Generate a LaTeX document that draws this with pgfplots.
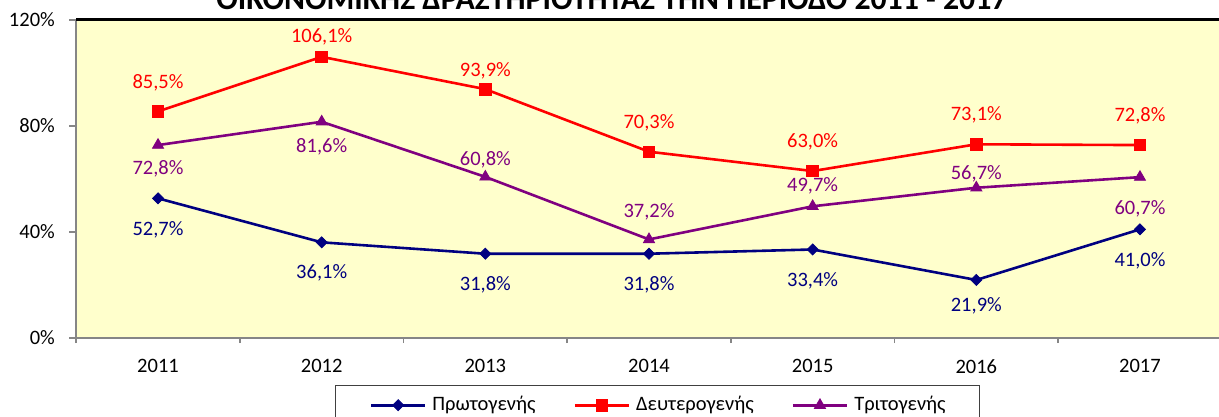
\documentclass[border=0pt]{standalone}
\usepackage{pgfplots}
\pgfplotsset{compat=1.18}
\usepackage{pgfplotstable}
\usepackage{fontspec}
\setmainfont{Carlito}
\definecolor{bg}{RGB}{255,255,204}
\definecolor{navyc}{RGB}{0,0,128}
\definecolor{redc}{RGB}{255,0,0}
\definecolor{purc}{RGB}{128,0,128}
\definecolor{axgray}{RGB}{134,134,134}

\pgfplotstableread{
x y off
0 52.7 -15.8
1 36.1 -15.0
2 31.8 -15.5
3 31.8 -15.5
4 33.4 -15.5
5 21.9 -12.8
6 41.0 -15.8
}\prim
\pgfplotstableread{
x y off
0 85.5 14.5
1 106.1 9.8
2 93.9 9.0
3 70.3 14.3
4 63.0 14.5
5 73.1 14.5
6 72.8 14.5
}\deut
\pgfplotstableread{
x y off
0 72.8 -12.0
1 81.6 -12.5
2 60.8 8.5
3 37.2 14.0
4 49.7 10.0
5 56.7 7.0
6 60.7 -16.0
}\trit

\begin{document}
\begin{tikzpicture}[font=\fontsize{10.25bp}{12bp}\selectfont]
\begin{axis}[
  scale only axis, width=572.8bp, height=159bp,
  xmin=-0.5, xmax=6.5, ymin=0, ymax=120,
  axis background/.style={fill=bg},
  axis line style={draw=none},
  xtick={0,...,6}, xticklabels={2011,2012,2013,2014,2015,2016,2017},
  minor xtick={-0.5,0.5,...,6.5},
  ytick={0,40,80,120}, yticklabels={0\%,40\%,80\%,120\%},
  xtick pos=bottom, ytick pos=left,
  tick align=outside,
  major tick length=3.5bp, minor tick length=2.5bp,
  major x tick style={draw=none},
  minor x tick style={axgray, line width=0.8bp},
  y tick style={axgray, line width=0.8bp},
  xticklabel style={inner sep=0pt, anchor=north, yshift=-7bp},
  yticklabel style={inner sep=0pt, anchor=east, xshift=-7bp},
  legend columns=3,
  legend cell align=left,
  legend style={at={(0.2262,-0.1478)}, anchor=north west, draw=black!75, line width=0.5bp,
    inner xsep=17bp, inner ysep=5.5bp, fill=white,
    nodes={inner sep=0pt},
    /tikz/every odd column/.append style={column sep=3bp},
    /tikz/every even column/.append style={column sep=19bp}},
  legend image code/.code={\draw[mark repeat=2,mark phase=2,#1] plot coordinates {(0bp,0bp) (13.5bp,0bp) (27bp,0bp)};},
  point meta=y,
  nodes near coords={\pgfmathprintnumber[fixed,fixed zerofill,precision=1,use comma,assume math mode=true]{\pgfplotspointmeta}\%},
  visualization depends on={\thisrow{off} \as \off},
  every node near coord/.append style={anchor=center, inner sep=0pt, yshift={\off*1bp}},
  clip=false,
]
\addplot[navyc, line width=1.3bp, mark=square*, mark size=1.95bp,
  mark options={solid, rotate=45, line width=0.4bp, fill=navyc},
  every node near coord/.append style={text=navyc}] table[x=x,y=y] {\prim};
\addlegendentry{Πρωτογενής}
\addplot[redc, line width=1.3bp, mark=square*, mark size=2.9bp,
  mark options={solid, line width=0.4bp, fill=redc},
  every node near coord/.append style={text=redc}] table[x=x,y=y] {\deut};
\addlegendentry{Δευτερογενής}
\addplot[purc, line width=1.3bp, mark=triangle*, mark size=3.2bp,
  mark options={solid, line width=0.4bp, fill=purc},
  every node near coord/.append style={text=purc}] table[x=x,y=y] {\trit};
\addlegendentry{Τριτογενής}
\draw[axgray, line width=1bp] (rel axis cs:0,0) -- (rel axis cs:1,0);
\draw[axgray, line width=1bp] (rel axis cs:0,0) -- (rel axis cs:0,1);
\draw[black, line width=1.5bp] (rel axis cs:0,1) -- (rel axis cs:1,1);
\end{axis}
\node[anchor=base, font=\bfseries\fontsize{15.9bp}{18bp}\selectfont] at (267.9bp,164.3bp) {ΟΙΚΟΝΟΜΙΚΗΣ ΔΡΑΣΤΗΡΙΟΤΗΤΑΣ ΤΗΝ ΠΕΡΙΟΔΟ 2011 - 2017};
\pgfresetboundingbox
\useasboundingbox (-38.1bp,-39.5bp) rectangle (571.4bp,169bp);
\end{tikzpicture}
\end{document}
